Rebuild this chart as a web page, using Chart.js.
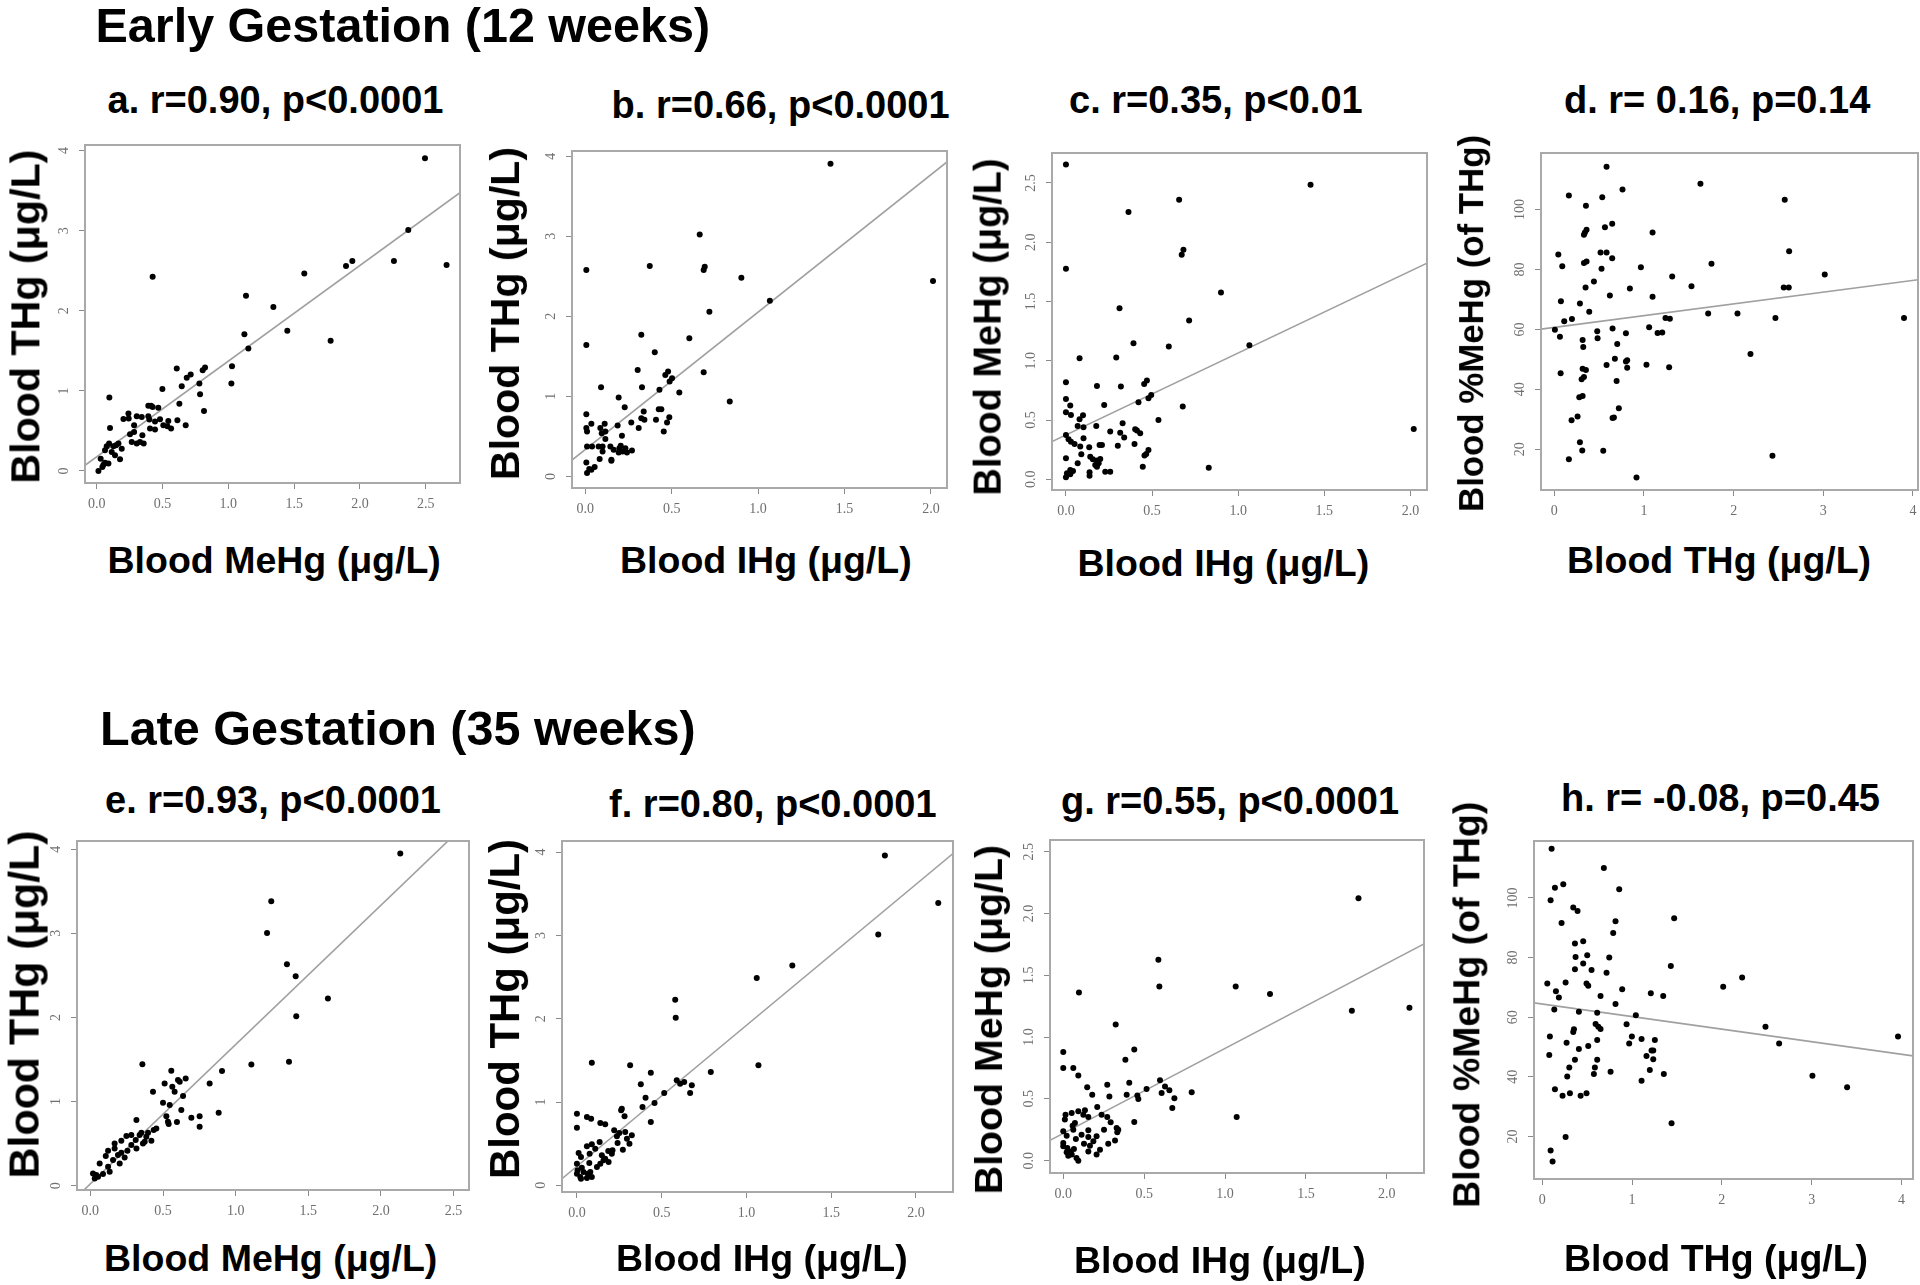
<!DOCTYPE html>
<html><head><meta charset="utf-8">
<script src="https://cdn.jsdelivr.net/npm/chart.js@4.4.0/dist/chart.umd.min.js"></script>
<style>
html,body{margin:0;padding:0;background:#fff;}
body{width:1920px;height:1285px;position:relative;overflow:hidden;font-family:"Liberation Sans",Arial,sans-serif;}
canvas{position:absolute;}
.t{position:absolute;white-space:nowrap;font-weight:bold;color:#000;line-height:1;}
</style></head><body>
<script>
// ---------- DATA ----------
// a. Early: Blood MeHg (x) vs Blood THg (y)
const earlyMeHgTHg = [[2.494,3.904],[2.367,3.008],[1.894,2.558],[1.942,2.621],[2.258,2.621],[2.658,2.571],[1.577,2.467],[0.425,2.425],[1.134,2.188],[1.342,2.046],[1.448,1.75],[1.122,1.708],[1.777,1.625],[1.152,1.529],[1.028,1.308],[1.023,1.092],[0.608,1.279],[0.823,1.292],[0.805,1.258],[0.714,1.204],[0.684,1.163],[0.78,1.092],[0.646,1.058],[0.499,1.025],[0.785,0.958],[0.096,0.917],[0.815,0.75],[0.628,0.838],[0.392,0.813],[0.413,0.813],[0.468,0.788],[0.392,0.683],[0.443,0.617],[0.241,0.717],[0.304,0.683],[0.342,0.675],[0.203,0.65],[0.4,0.642],[0.613,0.633],[0.544,0.625],[0.506,0.571],[0.676,0.571],[0.565,0.529],[0.443,0.517],[0.284,0.571],[0.101,0.537],[0.284,0.488],[0.347,0.446],[0.266,0.363],[0.304,0.342],[0.357,0.342],[0.165,0.342],[0.127,0.308],[0.076,0.308],[0.19,0.279],[0.139,0.196],[0.177,0.146],[0.03,0.154],[0.063,0.104],[0.089,0.092],[0.043,0.05],[0.013,0],[0.063,0.258],[0.114,0.238],[0.329,0.363],[0.481,0.646],[0.243,0.654],[0.051,0.079],[0.094,0.342],[0.147,0.321],[0.253,0.458],[0.405,0.529],[0.537,0.558],[0.425,0.8]];
// b. Early: Blood IHg vs Blood THg
const earlyIHgTHg = [[1.419,3.907],[0.662,3.022],[0.373,2.627],[0.006,2.577],[0.685,2.577],[0.691,2.618],[0.903,2.481],[2.012,2.44],[1.068,2.195],[0.718,2.057],[0.324,1.771],[0.602,1.725],[0.006,1.642],[0.402,1.55],[0.303,1.33],[0.685,1.301],[0.479,1.309],[0.463,1.268],[0.502,1.226],[0.488,1.185],[0.091,1.114],[0.328,1.114],[0.429,1.081],[0.544,1.047],[0.193,0.985],[0.836,0.935],[0.228,0.864],[0.425,0.84],[0.44,0.84],[0.338,0.81],[0.006,0.777],[0.324,0.727],[0.486,0.74],[0.409,0.707],[0.342,0.707],[0.266,0.673],[0.473,0.673],[0.035,0.657],[0.112,0.657],[0.187,0.636],[0.006,0.603],[0.309,0.603],[0.087,0.603],[0.01,0.561],[0.095,0.54],[0.116,0.561],[0.454,0.561],[0.212,0.507],[0.116,0.466],[0.01,0.374],[0.039,0.374],[0.077,0.374],[0.1,0.374],[0.145,0.374],[0.164,0.333],[0.197,0.353],[0.216,0.312],[0.193,0.299],[0.27,0.324],[0.241,0.299],[0.151,0.208],[0.083,0.216],[0.006,0.175],[0.054,0.116],[0.035,0.083],[0.01,0.042],[0.023,0.091],[0.1,0.312],[0.232,0.353],[0.205,0.382],[0.151,0.195]];
// c. Early: Blood IHg vs Blood MeHg
const earlyIHgMeHg = [[0,2.655],[1.42,2.486],[0.657,2.359],[0.363,2.255],[0.682,1.937],[0.672,1.895],[0,1.776],[0.9,1.577],[0.311,1.444],[0.715,1.34],[0.392,1.149],[0.597,1.12],[1.065,1.132],[0.079,1.022],[0.292,1.028],[0,0.819],[0.47,0.833],[0.454,0.805],[0.18,0.788],[0.319,0.783],[0.495,0.712],[0.479,0.684],[0,0.678],[0.222,0.628],[0.025,0.622],[0.421,0.65],[0.678,0.614],[0,0.566],[0.029,0.543],[0.099,0.541],[0.079,0.507],[0.537,0.501],[0.329,0.473],[0.176,0.45],[0.068,0.45],[0.102,0.439],[0.402,0.422],[0.412,0.411],[0.431,0.389],[0.257,0.403],[0.315,0.394],[0,0.374],[0.338,0.352],[0.102,0.346],[0.015,0.338],[0.029,0.318],[0.05,0.298],[0.398,0.298],[0.301,0.284],[0.195,0.29],[0.209,0.29],[0.083,0.276],[0.135,0.27],[0.479,0.248],[0.466,0.214],[0.456,0.2],[0.089,0.211],[0.141,0.191],[0,0.177],[0.156,0.169],[0.18,0.158],[0.19,0.135],[0.18,0.107],[0.068,0.135],[0.446,0.107],[0.829,0.098],[0.228,0.065],[0.257,0.065],[0.137,0.059],[0.137,0.031],[0.025,0.079],[0.041,0.07],[0.006,0.051],[0,0.017],[0.025,0.042],[2.019,0.425],[0.199,0.172],[0.17,0.121]];
// d. Early: Blood THg vs Blood %MeHg
const earlyTHgPctMeHg = [[0.583,114.3],[1.63,108.6],[0.761,106.7],[0.163,104.7],[0.535,104.1],[2.57,103.3],[0.353,101.3],[0.646,95.3],[0.565,94.1],[0.36,93.3],[0.342,92.4],[0.331,91.6],[1.096,92.4],[0.045,85.0],[0.516,85.7],[0.583,85.7],[2.619,86.1],[0.646,83.8],[0.36,82.7],[0.331,82.2],[0.089,81.1],[0.966,80.8],[0.527,80.3],[1.753,81.9],[1.315,77.7],[3.016,78.3],[0.442,76.0],[0.349,74.0],[0.843,73.7],[1.53,74.4],[2.559,74.0],[2.615,74.0],[0.62,71.3],[1.096,70.9],[0.074,69.4],[0.286,68.7],[0.39,65.9],[1.716,65.3],[2.043,65.3],[0.197,63.5],[0.111,62.7],[1.24,63.8],[1.289,63.6],[2.466,63.8],[3.9,63.8],[1.058,60.7],[0.65,60.3],[0.007,59.9],[0.479,59.4],[1.152,58.8],[1.204,59.0],[0.799,58.7],[0.063,57.6],[0.483,57.1],[0.316,56.5],[0.323,54.1],[0.702,55.1],[2.188,51.8],[0.676,50.2],[0.813,49.7],[0.799,49.3],[0.583,48.1],[1.028,48.2],[1.281,47.4],[0.813,47.2],[0.316,46.9],[0.353,46.5],[0.071,45.4],[0.331,44.1],[0.305,43.4],[0.695,42.8],[0.316,37.8],[0.279,37.4],[0.72,33.7],[0.65,30.4],[0.665,30.6],[0.26,30.9],[0.193,29.7],[0.286,22.3],[0.312,19.6],[0.546,19.5],[0.163,16.7],[2.433,17.8],[0.917,10.6]];
// e. Late: Blood MeHg vs Blood THg
const lateMeHgTHg = [[2.133,3.947],[1.245,3.381],[1.216,3.005],[1.353,2.633],[1.413,2.49],[1.635,2.225],[1.417,2.015],[0.358,1.445],[1.108,1.441],[1.367,1.473],[0.906,1.362],[0.557,1.366],[0.656,1.275],[0.615,1.235],[0.511,1.215],[0.821,1.215],[0.564,1.176],[0.431,1.116],[0.58,1.116],[0.638,1.065],[0.5,0.986],[0.546,0.958],[0.626,0.899],[0.883,0.867],[0.523,0.827],[0.695,0.808],[0.752,0.827],[0.752,0.701],[0.596,0.756],[0.539,0.732],[0.317,0.78],[0.436,0.661],[0.351,0.629],[0.385,0.582],[0.248,0.59],[0.312,0.542],[0.213,0.534],[0.362,0.503],[0.282,0.483],[0.167,0.503],[0.317,0.443],[0.167,0.443],[0.122,0.416],[0.213,0.392],[0.106,0.352],[0.236,0.336],[0.156,0.305],[0.064,0.265],[0.122,0.226],[0.018,0.146],[0.053,0.107],[0.03,0.087],[0.087,0.139],[0.339,0.602],[0.374,0.523],[0.282,0.602],[0.255,0.416],[0.19,0.364],[0.041,0.127],[0.133,0.166],[0.202,0.265],[0.42,0.534],[0.397,0.629],[0.603,1.255],[0.534,0.76],[0.454,0.681]];
// f. Late: Blood IHg vs Blood THg
const lateIHgTHg = [[1.817,3.96],[2.132,3.388],[1.778,3.012],[1.271,2.64],[1.061,2.488],[0.58,2.228],[0.583,2.012],[0.088,1.472],[0.314,1.44],[1.071,1.44],[0.436,1.352],[0.79,1.36],[0.589,1.26],[0.609,1.22],[0.633,1.24],[0.678,1.2],[0.377,1.212],[0.515,1.108],[0.668,1.108],[0.405,1.052],[0.458,0.988],[0.387,0.94],[0.261,0.9],[0,0.86],[0.281,0.828],[0.059,0.82],[0.084,0.8],[0.436,0.76],[0.138,0.748],[0.167,0.732],[0,0.692],[0.22,0.66],[0.25,0.628],[0.285,0.64],[0.324,0.6],[0.236,0.588],[0.295,0.56],[0.134,0.52],[0.24,0.508],[0.31,0.5],[0.088,0.492],[0.059,0.468],[0.108,0.44],[0.271,0.428],[0.185,0.412],[0.01,0.388],[0.075,0.38],[0.147,0.36],[0.206,0.38],[0.167,0.32],[0.187,0.28],[0.138,0.26],[0.073,0.268],[0,0.26],[0.029,0.212],[0.039,0.16],[0.079,0.16],[0,0.14],[0.02,0.1],[0.059,0.088],[0.088,0.1],[0.004,0.18],[0.024,0.08],[0.065,0.14],[0.21,0.42],[0.157,0.3],[0.118,0.22],[0.265,0.92],[0.024,0.34]];
// g. Late: Blood IHg vs Blood MeHg
const lateIHgMeHg = [[1.825,2.124],[0.588,1.625],[0.594,1.41],[1.066,1.41],[0.097,1.361],[1.278,1.348],[1.784,1.213],[2.14,1.237],[0.324,1.102],[0.439,0.9],[0,0.879],[0.384,0.817],[0,0.749],[0.062,0.749],[0.093,0.69],[0.598,0.65],[0.408,0.631],[0.272,0.615],[0.148,0.593],[0.629,0.601],[0.515,0.58],[0.656,0.569],[0.608,0.547],[0.794,0.553],[0.392,0.534],[0.458,0.528],[0.179,0.534],[0.285,0.52],[0.464,0.499],[0.687,0.504],[0.21,0.434],[0.674,0.426],[1.072,0.353],[0.093,0.399],[0.134,0.407],[0.014,0.372],[0.052,0.385],[0.124,0.372],[0.237,0.372],[0.272,0.353],[0.155,0.353],[0.01,0.332],[0.072,0.305],[0.058,0.283],[0.439,0.313],[0.293,0.31],[0.33,0.264],[0.334,0.229],[0.252,0.251],[0.155,0.245],[0,0.237],[0.021,0.202],[0.078,0.175],[0.155,0.191],[0.206,0.197],[0.32,0.164],[0.278,0.137],[0.128,0.137],[0,0.143],[0,0.116],[0.025,0.102],[0.041,0.075],[0.066,0.094],[0.155,0.075],[0.165,0.121],[0.206,0.049],[0.031,0.04],[0.082,0.022],[0.093,0],[0.021,0.067],[0.052,0.049],[0.186,0.156],[0.227,0.089],[0.34,0.251],[0.062,0.251],[0.113,0.21]];
// h. Late: Blood THg vs Blood %MeHg
const lateTHgPctMeHg = [[0.104,116.5],[0.686,110.0],[0.141,103.4],[0.234,104.6],[0.857,102.9],[0.093,99.2],[0.345,96.8],[0.393,95.6],[1.469,93.2],[0.215,91.6],[0.816,92.2],[0.79,88.2],[0.456,85.5],[0.364,84.7],[0.501,80.8],[0.371,80.2],[0.746,80.0],[0.456,78.0],[1.432,77.2],[0.364,76.1],[0.549,75.8],[0.716,74.9],[2.226,73.3],[0.056,71.3],[0.26,71.6],[0.493,71.3],[0.512,70.5],[2.015,70.2],[0.89,69.4],[0.152,68.7],[0.185,66.6],[1.209,68.0],[1.347,67.1],[0.649,67.1],[0.816,64.4],[0.134,62.6],[0.408,61.8],[0.612,61.5],[1.042,60.6],[0.594,57.7],[0.624,56.8],[0.649,56.0],[0.939,57.6],[0.353,55.9],[0.345,55.0],[2.486,56.8],[0.085,53.5],[0.998,53.5],[1.106,52.7],[1.254,52.3],[0.612,52.3],[0.271,51.4],[0.968,51.2],[2.638,51.2],[3.962,53.5],[0.408,49.3],[0.512,50.3],[1.217,48.8],[1.236,48.8],[0.078,47.3],[1.161,47.0],[0.364,45.7],[0.612,45.7],[1.236,45.9],[0.301,43.1],[0.586,43.1],[0.575,40.9],[0.761,41.7],[0.278,40.1],[1.198,42.3],[1.354,40.9],[3.009,40.3],[1.106,38.7],[0.141,35.8],[3.395,36.5],[0.308,34.5],[0.226,33.6],[0.427,33.6],[0.493,34.5],[1.44,24.4],[0.26,19.8],[0.093,15.3],[0.115,11.6]];

// Regression lines (end points)
const fitA = [[-0.089,0.071],[2.76,3.475]];
const fitB = [[-0.077,0.203],[2.093,3.928]];
const fitC = [[-0.081,0.318],[2.096,1.824]];
const fitD = [[-0.148,60.1],[4.056,76.6]];
const fitE = [[-0.092,-0.13],[2.606,4.337]];
const fitF = [[-0.088,0.08],[2.219,3.982]];
const fitG = [[-0.082,0.164],[2.23,1.754]];
const fitH = [[-0.092,64.8],[4.129,47.0]];

// Tick values
const ticks0to25 = [0,0.5,1,1.5,2,2.5];
const ticks0to20 = [0,0.5,1,1.5,2];
const ticks0to4int = [0,1,2,3,4];
const ticksPct = [20,40,60,80,100];

// Text
const sectionTitles = ["Early Gestation (12 weeks)", "Late Gestation (35 weeks)"];
const panelTitles = ["a. r=0.90, p<0.0001","b. r=0.66, p<0.0001","c. r=0.35, p<0.01","d. r= 0.16, p=0.14",
                     "e. r=0.93, p<0.0001","f. r=0.80, p<0.0001","g. r=0.55, p<0.0001","h. r= -0.08, p=0.45"];
const xLabels = ["Blood MeHg (μg/L)","Blood IHg (μg/L)","Blood IHg (μg/L)","Blood THg (μg/L)",
                 "Blood MeHg (μg/L)","Blood IHg (μg/L)","Blood IHg (μg/L)","Blood THg (μg/L)"];
const yLabels = ["Blood THg (μg/L)","Blood THg (μg/L)","Blood MeHg (μg/L)","Blood %MeHg (of THg)",
                 "Blood THg (μg/L)","Blood THg (μg/L)","Blood MeHg (μg/L)","Blood %MeHg (of THg)"];

// ---------- LAYOUT ----------
const PAD_L = 60, PAD_B = 46, PAD_T = 4, PAD_R = 8;
const panels = [
  {pts:earlyMeHgTHg, fit:fitA, box:[85,145,460,483],  xr:[-0.089,2.76],  yr:[-0.15,4.07],  xt:ticks0to25, yt:ticks0to4int, xDec:1, yDec:0},
  {pts:earlyIHgTHg,  fit:fitB, box:[572,151,947,488], xr:[-0.077,2.093], yr:[-0.145,4.065],xt:ticks0to20, yt:ticks0to4int, xDec:1, yDec:0},
  {pts:earlyIHgMeHg, fit:fitC, box:[1052,153,1427,490],xr:[-0.081,2.096],yr:[-0.09,2.753], xt:ticks0to20, yt:ticks0to25,  xDec:1, yDec:1},
  {pts:earlyTHgPctMeHg, fit:fitD, box:[1541,153,1918,490],xr:[-0.148,4.056],yr:[6.4,118.9],xt:ticks0to4int, yt:ticksPct, xDec:0, yDec:0},
  {pts:lateMeHgTHg,  fit:fitE, box:[77,841,469,1190], xr:[-0.092,2.606], yr:[-0.051,4.097],xt:ticks0to25, yt:ticks0to4int, xDec:1, yDec:0},
  {pts:lateIHgTHg,   fit:fitF, box:[562,841,953,1192],xr:[-0.088,2.219], yr:[-0.08,4.133], xt:ticks0to20, yt:ticks0to4int, xDec:1, yDec:0},
  {pts:lateIHgMeHg,  fit:fitG, box:[1050,840,1424,1173],xr:[-0.082,2.23],yr:[-0.1,2.595],  xt:ticks0to20, yt:ticks0to25,  xDec:1, yDec:1},
  {pts:lateTHgPctMeHg, fit:fitH, box:[1534,841,1913,1179],xr:[-0.092,4.129],yr:[5.7,119.1],xt:ticks0to4int, yt:ticksPct, xDec:0, yDec:0}
];

const framePlugin = {
  id:'frame',
  afterDraw(chart, args, opts){
    const {ctx, chartArea:a, scales:{x, y}} = chart;
    ctx.save();
    ctx.strokeStyle = '#a9a9a9'; ctx.lineWidth = 2;
    ctx.strokeRect(a.left, a.top, a.right - a.left, a.bottom - a.top);
    ctx.fillStyle = '#6f6f6f';
    ctx.font = '14px "Liberation Serif", serif';
    ctx.textAlign = 'center'; ctx.textBaseline = 'middle';
    y.ticks.forEach(t => {
      const py = y.getPixelForValue(t.value);
      ctx.save();
      ctx.translate(a.left - 21, py);
      ctx.rotate(-Math.PI/2);
      ctx.fillText(Number(t.value).toFixed(opts.yDec), 0, 0);
      ctx.restore();
    });
    ctx.restore();
  }
};

panels.forEach(p => {
  const c = document.createElement('canvas');
  const W = (p.box[2]-p.box[0]) + PAD_L + PAD_R;
  const H = (p.box[3]-p.box[1]) + PAD_T + PAD_B;
  c.width = W; c.height = H;
  c.style.left = (p.box[0]-PAD_L)+'px'; c.style.top = (p.box[1]-PAD_T)+'px';
  c.style.width = W+'px'; c.style.height = H+'px';
  document.body.appendChild(c);
  const gridOpts = {display:true, drawOnChartArea:false, drawTicks:true, tickLength:6, color:'#8a8a8a', lineWidth:1};
  new Chart(c, {
    type:'scatter',
    data:{datasets:[
      {data:p.pts.map(q=>({x:q[0], y:q[1]})), backgroundColor:'#000', borderColor:'#000', borderWidth:0, pointRadius:3, pointHoverRadius:3, order:0},
      {type:'line', data:p.fit.map(q=>({x:q[0], y:q[1]})), borderColor:'#a0a0a0', borderWidth:1.6, pointRadius:0, fill:false, tension:0, order:1}
    ]},
    options:{
      responsive:false, animation:false, devicePixelRatio:1,
      events:[],
      layout:{padding:{top:PAD_T, right:PAD_R, left:0, bottom:0}},
      plugins:{legend:{display:false}, tooltip:{enabled:false}, frame:{yDec:p.yDec}},
      scales:{
        x:{type:'linear', position:'bottom', min:p.xr[0], max:p.xr[1],
           afterBuildTicks: s => { s.ticks = p.xt.map(v => ({value:v})); },
           afterFit: s => { s.height = PAD_B; },
           grid:gridOpts, border:{display:false},
           ticks:{font:{family:'"Liberation Serif", serif', size:14}, color:'#6f6f6f', padding:7, maxRotation:0, minRotation:0, autoSkip:false,
                  callback:(v)=>Number(v).toFixed(p.xDec)}},
        y:{type:'linear', position:'left', min:p.yr[0], max:p.yr[1],
           afterBuildTicks: s => { s.ticks = p.yt.map(v => ({value:v})); },
           afterFit: s => { s.width = PAD_L; },
           grid:gridOpts, border:{display:false},
           ticks:{display:false}}
      }
    },
    plugins:[framePlugin]
  });
});

// ---------- TEXT ----------
function addText(txt, cx, cy, size, rot, targetLen){
  const d = document.createElement('div');
  d.className = 't'; d.textContent = txt; d.style.fontSize = size+'px';
  document.body.appendChild(d);
  if (targetLen) {
    const w0 = d.offsetWidth;
    d.style.fontSize = (size * targetLen / w0).toFixed(2) + 'px';
  }
  const w = d.offsetWidth, h = d.offsetHeight;
  d.style.left = (cx - w/2)+'px'; d.style.top = (cy - h/2)+'px';
  if (rot) d.style.transform = 'rotate(-90deg)';
}
addText(sectionTitles[0], 403, 25, 48.5);
addText(sectionTitles[1], 398, 728, 48.5);
const titlePos = [[275.5,100],[780.6,105],[1216,100],[1717,100],[273,800],[772.6,804],[1230,801],[1720.5,798]];
const xLabPos  = [[274,561],[766,561],[1223.5,564],[1719,561],[270.5,1259],[762,1259],[1220,1261],[1716,1259]];
const yLabPos  = [[26,316],[505,313],[988,327],[1471,323],[24,1004],[505,1009],[988,1019],[1467,1005]];
const yLabLen  = [334,333,337,377,348,340,349,406];
for (let i=0;i<8;i++){
  addText(panelTitles[i], titlePos[i][0], titlePos[i][1], 38);
  addText(xLabels[i], xLabPos[i][0], xLabPos[i][1], 37.5);
  addText(yLabels[i], yLabPos[i][0], yLabPos[i][1], 37.5, true, yLabLen[i]);
}
</script>
</body></html>
